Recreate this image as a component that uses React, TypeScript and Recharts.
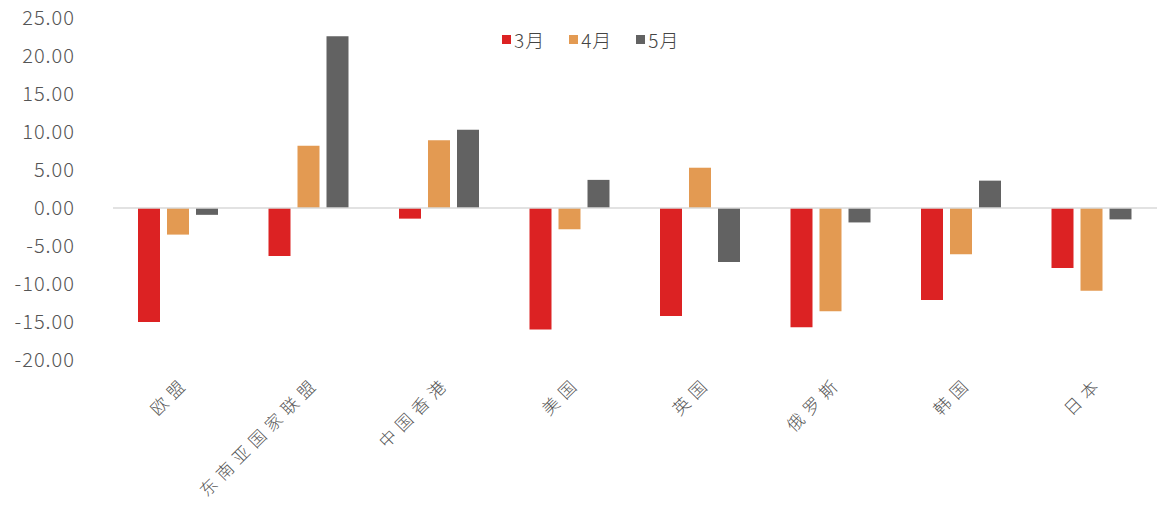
import { BarChart, Bar, XAxis, YAxis, ReferenceLine } from "recharts";

const regions = ["欧盟", "东南亚国家联盟", "中国香港", "美国", "英国", "俄罗斯", "韩国", "日本"];
const march = [-15.0, -6.3, -1.4, -16.0, -14.2, -15.7, -12.1, -7.9];
const april = [-3.5, 8.2, 8.9, -2.8, 5.3, -13.6, -6.1, -10.9];
const may = [-0.9, 22.6, 10.3, 3.7, -7.1, -1.9, 3.6, -1.5];
const yTicks = [-20, -15, -10, -5, 0, 5, 10, 15, 20, 25];

const series = [
  { key: "mar", name: "3月", color: "#dc2223" },
  { key: "apr", name: "4月", color: "#e39a52" },
  { key: "may", name: "5月", color: "#626262" },
];

const data = regions.map((name, i) => ({ name, mar: march[i], apr: april[i], may: may[i] }));

const CJK = '"Noto Sans CJK SC", "Noto Sans", sans-serif';

function RegionTick({ x, y, payload }: any) {
  const ax = x + 12;
  const ay = y + 16;
  return (
    <text
      x={ax}
      y={ay}
      transform={`rotate(-45 ${ax} ${ay})`}
      textAnchor="end"
      fontSize={17}
      fontFamily={CJK}
      fontWeight={300}
      letterSpacing={6}
      fill="#555"
    >
      {payload.value}
    </text>
  );
}

export default function App() {
  return (
    <div style={{ position: "absolute", left: 0, top: 0, width: 1157, height: 509, background: "#fff" }}>
      {/* legend kept outside the chart so it doesn't eat into the plot height */}
      <div
        style={{
          position: "absolute",
          top: 26,
          left: 502,
          display: "flex",
          gap: 24,
          fontFamily: CJK,
          fontSize: 19,
          fontWeight: 300,
          color: "#444",
          zIndex: 2,
        }}
      >
        {series.map((s) => (
          <div key={s.key} style={{ display: "flex", alignItems: "center", gap: 3 }}>
            <span style={{ width: 9, height: 9, background: s.color, display: "inline-block" }} />
            <span style={{ letterSpacing: 1 }}>{s.name}</span>
          </div>
        ))}
      </div>
      <BarChart
        width={1157}
        height={509}
        data={data}
        margin={{ top: 18, right: 0, bottom: 0, left: 0 }}
        barCategoryGap={25}
        barGap={7}
      >
        <YAxis
          width={113}
          domain={[-20, 25]}
          ticks={yTicks}
          interval={0}
          axisLine={false}
          tickLine={false}
          tickMargin={32}
          tickFormatter={(v: number) => v.toFixed(2)}
          tick={{ fontSize: 20, fill: "#555", fontFamily: CJK, fontWeight: 300, letterSpacing: 1 }}
        />
        <XAxis
          dataKey="name"
          height={149}
          interval={0}
          axisLine={false}
          tickLine={false}
          tick={<RegionTick />}
        />
        <ReferenceLine y={0} stroke="#d9d9d9" strokeWidth={1.5} />
        {series.map((s) => (
          <Bar key={s.key} dataKey={s.key} name={s.name} fill={s.color} isAnimationActive={false} />
        ))}
      </BarChart>
    </div>
  );
}
